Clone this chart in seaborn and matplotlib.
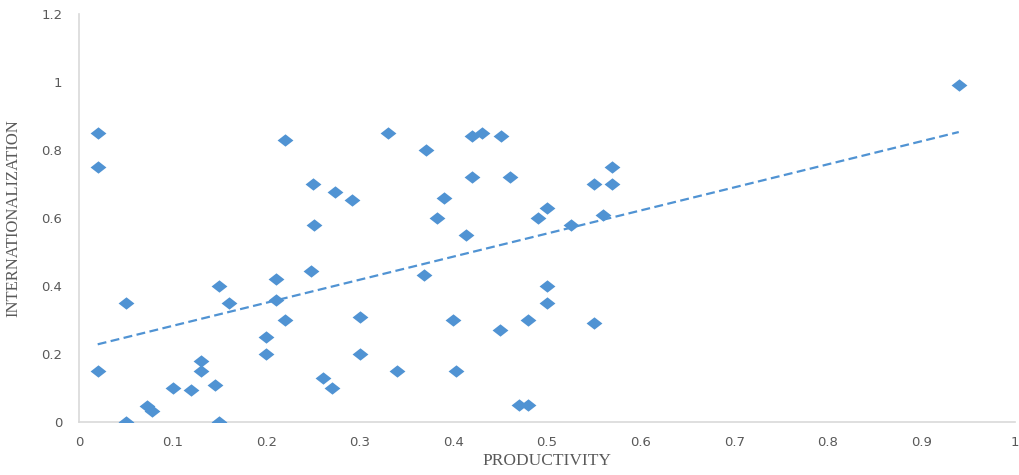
import numpy as np
import pandas as pd
import seaborn as sns
import matplotlib
matplotlib.use("Agg")
import matplotlib.pyplot as plt
from matplotlib.path import Path
from matplotlib.ticker import FuncFormatter, MultipleLocator

# values
productivity = [0.02, 0.02, 0.02, 0.05, 0.05, 0.073, 0.078, 0.10, 0.12, 0.13,
                0.13, 0.145, 0.15, 0.15, 0.16, 0.20, 0.20, 0.21, 0.21, 0.22,
                0.22, 0.248, 0.25, 0.251, 0.274, 0.261, 0.27, 0.292, 0.30, 0.30,
                0.33, 0.34, 0.371, 0.369, 0.382, 0.39, 0.40, 0.403, 0.413, 0.42,
                0.431, 0.42, 0.451, 0.45, 0.46, 0.47, 0.48, 0.48, 0.49, 0.50,
                0.50, 0.50, 0.526, 0.55, 0.55, 0.56, 0.57, 0.57, 0.94]
internationalization = [0.85, 0.75, 0.15, 0.35, 0.00, 0.047, 0.032, 0.10, 0.094, 0.18,
                        0.15, 0.109, 0.40, 0.00, 0.35, 0.25, 0.20, 0.42, 0.36, 0.30,
                        0.83, 0.444, 0.70, 0.58, 0.677, 0.13, 0.10, 0.653, 0.31, 0.20,
                        0.85, 0.15, 0.80, 0.432, 0.60, 0.659, 0.30, 0.15, 0.55, 0.84,
                        0.85, 0.72, 0.84, 0.27, 0.72, 0.05, 0.05, 0.30, 0.60, 0.63,
                        0.40, 0.35, 0.58, 0.70, 0.29, 0.61, 0.75, 0.70, 0.99]

df = pd.DataFrame({"PRODUCTIVITY": productivity,
                   "INTERNATIONALIZATION": internationalization})

sns.set_style("white")
plt.rcParams['font.family'] = ['DejaVu Sans']

blue = "#5093D3"
grey_axis = "#D9D9D9"
grey_text = "#595959"

# slightly flattened diamond like the Excel marker
diamond = Path([(-1, 0), (0, 0.78), (1, 0), (0, -0.78), (-1, 0)],
               [Path.MOVETO, Path.LINETO, Path.LINETO, Path.LINETO, Path.CLOSEPOLY])

fig = plt.figure(figsize=(10.19, 4.75), dpi=100)
ax = fig.add_axes([0.0775, 0.1116, 0.9185, 0.859])

sns.regplot(data=df, x="PRODUCTIVITY", y="INTERNATIONALIZATION", ax=ax, ci=None,
            marker=diamond, color=blue,
            scatter_kws={"s": 130, "linewidths": 0, "alpha": 1, "zorder": 3},
            line_kws={"color": blue, "lw": 1.6, "dashes": (4, 2), "zorder": 2})

ax.set_xlim(0, 1)
ax.set_ylim(0, 1.2)
ax.xaxis.set_major_locator(MultipleLocator(0.1))
ax.yaxis.set_major_locator(MultipleLocator(0.2))
fmt = FuncFormatter(lambda v, p: "%g" % round(v, 2))
ax.xaxis.set_major_formatter(fmt)
ax.yaxis.set_major_formatter(fmt)

for side in ["top", "right"]:
    ax.spines[side].set_visible(False)
for side in ["left", "bottom"]:
    ax.spines[side].set_color(grey_axis)
    ax.spines[side].set_linewidth(1.2)

ax.tick_params(axis="both", direction="out", length=4, width=1.2, color=grey_axis,
               labelcolor=grey_text, labelsize=9.5)
ax.tick_params(axis="x", pad=6)
ax.tick_params(axis="y", pad=8)

ax.set_xlabel("PRODUCTIVITY", family="Liberation Serif", fontsize=12.5,
              color=grey_text, labelpad=3)
ax.set_ylabel("INTERNATIONALIZATION", family="Liberation Serif", fontsize=12,
              color=grey_text, labelpad=14)

fig.savefig("out.png", dpi=100)
